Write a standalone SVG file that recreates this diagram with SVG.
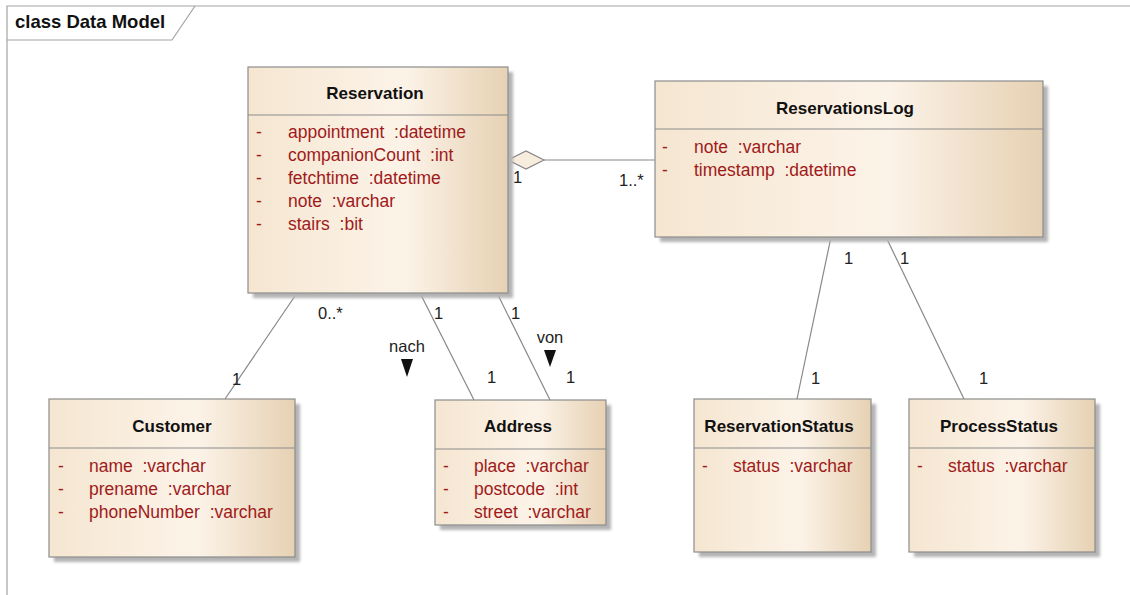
<svg xmlns="http://www.w3.org/2000/svg" width="1130" height="595" viewBox="0 0 1130 595">
  <defs>
    <linearGradient id="classFill" x1="0" y1="0" x2="1" y2="0">
      <stop offset="0" stop-color="#f5e6d1"/>
      <stop offset="0.6" stop-color="#fcf3e8"/>
      <stop offset="1" stop-color="#e6d1b3"/>
    </linearGradient>
    <filter id="soft" x="-10%" y="-10%" width="120%" height="120%">
      <feGaussianBlur stdDeviation="1.5"/>
    </filter>
  </defs>
  <style>
    .frame { fill: none; stroke: #a3a3a3; stroke-width: 1.2; }
    .frameLabel { font-family: "Liberation Sans", Arial, sans-serif; font-size: 18.5px; font-weight: bold; fill: #111; }
    .shadow { fill: #b4b4b4; filter: url(#soft); }
    .box { fill: url(#classFill); stroke: #8c8c8c; stroke-width: 1.2; }
    .divider { stroke: #8c8c8c; stroke-width: 1.2; }
    .title { font-family: "Liberation Sans", Arial, sans-serif; font-size: 17px; font-weight: bold; fill: #111; text-anchor: middle; }
    .attr { font-family: "Liberation Sans", Arial, sans-serif; font-size: 17.5px; fill: #a01a1a; white-space: pre; }
    .edge { fill: none; stroke: #888; stroke-width: 1.2; }
    .mult { font-family: "Liberation Sans", Arial, sans-serif; font-size: 16.5px; fill: #222; }
    .role { font-family: "Liberation Sans", Arial, sans-serif; font-size: 16.5px; fill: #222; text-anchor: middle; }
    .dir { fill: #111; }
    .agg { fill: #f8ecdc; stroke: #888; stroke-width: 1.2; }
  </style>

  <!-- diagram frame with name tab -->
  <g id="frame">
    <path class="frame" d="M7,595 V6 H1130"/>
    <path class="frame" d="M7,40 H172 L195,6"/>
    <text class="frameLabel" x="15" y="28">class Data Model</text>
  </g>

  <!-- associations -->
  <g id="connectors">
    <line class="edge" x1="544" y1="160" x2="655" y2="160"/>
    <polygon class="agg" points="508,160 526,151 544,160 526,169"/>
    <text class="mult" x="513" y="183">1</text>
    <text class="mult" x="619" y="186">1..*</text>

    <line class="edge" x1="297" y1="293" x2="225" y2="399"/>
    <text class="mult" x="318" y="319">0..*</text>
    <text class="mult" x="232" y="385">1</text>

    <line class="edge" x1="420" y1="293" x2="474" y2="400"/>
    <text class="mult" x="434" y="319">1</text>
    <text class="mult" x="487" y="383">1</text>
    <text class="role" x="407" y="352">nach</text>
    <polygon class="dir" points="401,359 413,359 407,377"/>

    <line class="edge" x1="497" y1="293" x2="550" y2="400"/>
    <text class="mult" x="511" y="319">1</text>
    <text class="mult" x="566" y="383">1</text>
    <text class="role" x="550" y="343">von</text>
    <polygon class="dir" points="544,350 556,350 550,367"/>

    <line class="edge" x1="831" y1="237" x2="797" y2="399"/>
    <text class="mult" x="844" y="264">1</text>
    <text class="mult" x="811" y="384">1</text>

    <line class="edge" x1="886" y1="237" x2="964" y2="399"/>
    <text class="mult" x="900" y="264">1</text>
    <text class="mult" x="979" y="384">1</text>
  </g>

  <g id="Reservation">
    <rect class="shadow" x="253" y="72" width="260" height="226"/>
    <rect class="box" x="248" y="67" width="260" height="226"/>
    <line class="divider" x1="248" y1="115" x2="508" y2="115"/>
    <text class="title" x="375" y="99">Reservation</text>
    <text class="attr" x="256" y="138">-</text><text class="attr" x="288" y="138">appointment  :datetime</text>
    <text class="attr" x="256" y="161">-</text><text class="attr" x="288" y="161">companionCount  :int</text>
    <text class="attr" x="256" y="184">-</text><text class="attr" x="288" y="184">fetchtime  :datetime</text>
    <text class="attr" x="256" y="207">-</text><text class="attr" x="288" y="207">note  :varchar</text>
    <text class="attr" x="256" y="230">-</text><text class="attr" x="288" y="230">stairs  :bit</text>
  </g>

  <g id="ReservationsLog">
    <rect class="shadow" x="660" y="86" width="388" height="156"/>
    <rect class="box" x="655" y="81" width="388" height="156"/>
    <line class="divider" x1="655" y1="129" x2="1043" y2="129"/>
    <text class="title" x="845" y="114">ReservationsLog</text>
    <text class="attr" x="662" y="153">-</text><text class="attr" x="694" y="153">note  :varchar</text>
    <text class="attr" x="662" y="176">-</text><text class="attr" x="694" y="176">timestamp  :datetime</text>
  </g>

  <g id="Customer">
    <rect class="shadow" x="54" y="404" width="246" height="158"/>
    <rect class="box" x="49" y="399" width="246" height="158"/>
    <line class="divider" x1="49" y1="448" x2="295" y2="448"/>
    <text class="title" x="172" y="432">Customer</text>
    <text class="attr" x="58" y="472">-</text><text class="attr" x="89" y="472">name  :varchar</text>
    <text class="attr" x="58" y="495">-</text><text class="attr" x="89" y="495">prename  :varchar</text>
    <text class="attr" x="58" y="518">-</text><text class="attr" x="89" y="518">phoneNumber  :varchar</text>
  </g>

  <g id="Address">
    <rect class="shadow" x="440" y="405" width="171" height="125"/>
    <rect class="box" x="435" y="400" width="171" height="125"/>
    <line class="divider" x1="435" y1="449" x2="606" y2="449"/>
    <text class="title" x="518" y="432">Address</text>
    <text class="attr" x="443" y="472">-</text><text class="attr" x="474" y="472">place  :varchar</text>
    <text class="attr" x="443" y="495">-</text><text class="attr" x="474" y="495">postcode  :int</text>
    <text class="attr" x="443" y="518">-</text><text class="attr" x="474" y="518">street  :varchar</text>
  </g>

  <g id="ReservationStatus">
    <rect class="shadow" x="699" y="404" width="177" height="153"/>
    <rect class="box" x="694" y="399" width="177" height="153"/>
    <line class="divider" x1="694" y1="448" x2="871" y2="448"/>
    <text class="title" x="779" y="432">ReservationStatus</text>
    <text class="attr" x="702" y="472">-</text><text class="attr" x="733" y="472">status  :varchar</text>
  </g>

  <g id="ProcessStatus">
    <rect class="shadow" x="914" y="404" width="186" height="153"/>
    <rect class="box" x="909" y="399" width="186" height="153"/>
    <line class="divider" x1="909" y1="448" x2="1095" y2="448"/>
    <text class="title" x="999" y="432">ProcessStatus</text>
    <text class="attr" x="917" y="472">-</text><text class="attr" x="948" y="472">status  :varchar</text>
  </g>
</svg>
